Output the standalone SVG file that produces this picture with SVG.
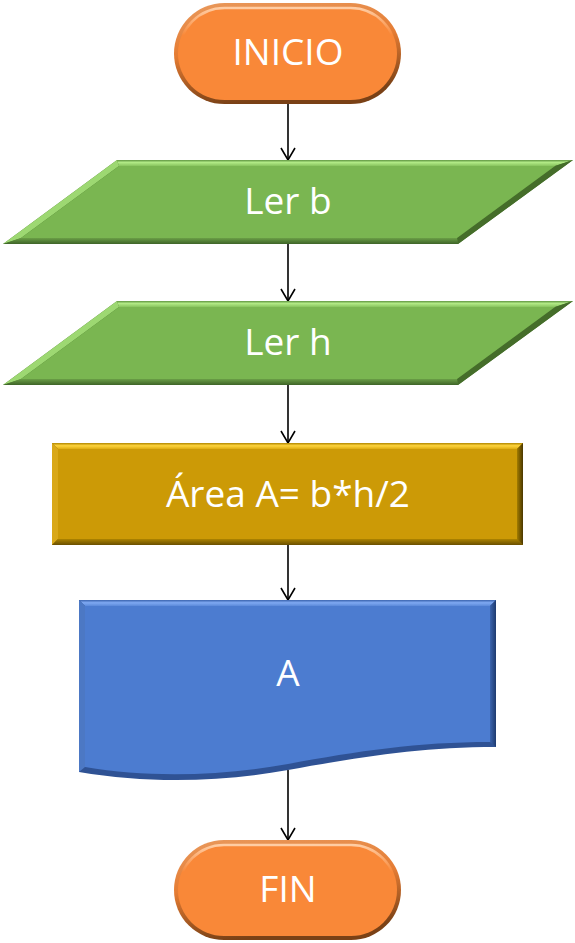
<svg xmlns="http://www.w3.org/2000/svg" width="575" height="943" viewBox="0 0 575 943">
<style>
  .lbl { font-family: "Open Sans", "Liberation Sans", sans-serif; font-size: 37px; fill: #ffffff; text-anchor: middle; }
  .conn { stroke: #000000; stroke-width: 1.6; fill: none; marker-end: url(#arr); }
</style>
<defs>
  <marker id="arr" viewBox="-14 -9 16 18" refX="0" refY="0" markerWidth="16" markerHeight="18" markerUnits="userSpaceOnUse" orient="auto">
    <path d="M-12,-7 L0,0 L-12,7" fill="none" stroke="#000" stroke-width="1.6"/>
  </marker>
  <linearGradient id="oEdge" x1="0" y1="0" x2="0.25" y2="1">
    <stop offset="0" stop-color="#E9995C"/>
    <stop offset="0.5" stop-color="#E57C33"/>
    <stop offset="1" stop-color="#7A4116"/>
  </linearGradient>
  <linearGradient id="oHi" x1="0" y1="0" x2="0" y2="1">
    <stop offset="0" stop-color="#FFCDA4" stop-opacity="1"/>
    <stop offset="0.3" stop-color="#FFCDA4" stop-opacity="0"/>
  </linearGradient>
  <linearGradient id="gTop" x1="0" y1="0" x2="0" y2="1">
    <stop offset="0" stop-color="#5E9440"/>
    <stop offset="0.4" stop-color="#B2EA86"/>
    <stop offset="1" stop-color="#88C45E"/>
  </linearGradient>
  <linearGradient id="gBot" x1="0" y1="0" x2="0" y2="1">
    <stop offset="0" stop-color="#6A9E46"/>
    <stop offset="1" stop-color="#3E6428"/>
  </linearGradient>
  <linearGradient id="yTop" x1="0" y1="0" x2="0" y2="1">
    <stop offset="0" stop-color="#B08600"/>
    <stop offset="0.45" stop-color="#FFD43C"/>
    <stop offset="1" stop-color="#DDAC12"/>
  </linearGradient>
  <linearGradient id="yRight" x1="0" y1="0" x2="1" y2="0">
    <stop offset="0" stop-color="#A27C00"/>
    <stop offset="1" stop-color="#4A3700"/>
  </linearGradient>
  <linearGradient id="yBot" x1="0" y1="0" x2="0" y2="1">
    <stop offset="0" stop-color="#AC8300"/>
    <stop offset="1" stop-color="#6A4F00"/>
  </linearGradient>
  <linearGradient id="bTop" x1="0" y1="0" x2="0" y2="1">
    <stop offset="0" stop-color="#3A63AE"/>
    <stop offset="0.45" stop-color="#7FA9F2"/>
    <stop offset="1" stop-color="#5C8ADA"/>
  </linearGradient>
  <linearGradient id="bRight" x1="0" y1="0" x2="1" y2="0">
    <stop offset="0" stop-color="#3B64AE"/>
    <stop offset="1" stop-color="#1E3A6E"/>
  </linearGradient>
</defs>

<g id="connectors">
  <line class="conn" x1="288" y1="104" x2="288" y2="160"/>
  <line class="conn" x1="288" y1="244" x2="288" y2="301"/>
  <line class="conn" x1="288" y1="385" x2="288" y2="443"/>
  <line class="conn" x1="288" y1="545" x2="288" y2="600"/>
  <line class="conn" x1="288" y1="770" x2="288" y2="840"/>
</g>

<g id="inicio">
  <rect x="174" y="3" width="227" height="101" rx="50.5" fill="url(#oEdge)"/>
  <rect x="178" y="7" width="219" height="93" rx="46.5" fill="#F98838"/>
  <rect x="179" y="8" width="217" height="91" rx="45.5" fill="none" stroke="url(#oHi)" stroke-width="2.5"/>
  <text class="lbl" x="288" y="65">INICIO</text>
</g>

<g id="ler-b">
  <polygon points="117,160 573,160 458,244 3,244" fill="#4E7C32"/>
  <polygon points="117,160 573,160 555,166 119,166" fill="url(#gTop)"/>
  <polygon points="117,160 119,166 21,238 3,244" fill="#9DD872"/>
  <polygon points="573,160 458,244 457,238 555,166" fill="#456D2A"/>
  <polygon points="3,244 458,244 457,238 21,238" fill="url(#gBot)"/>
  <polygon points="119,166 555,166 457,238 21,238" fill="#7AB651"/>
  <text class="lbl" x="288" y="214">Ler b</text>
</g>

<g id="ler-h" transform="translate(0,141)">
  <polygon points="117,160 573,160 458,244 3,244" fill="#4E7C32"/>
  <polygon points="117,160 573,160 555,166 119,166" fill="url(#gTop)"/>
  <polygon points="117,160 119,166 21,238 3,244" fill="#9DD872"/>
  <polygon points="573,160 458,244 457,238 555,166" fill="#456D2A"/>
  <polygon points="3,244 458,244 457,238 21,238" fill="url(#gBot)"/>
  <polygon points="119,166 555,166 457,238 21,238" fill="#7AB651"/>
  <text class="lbl" x="288" y="214">Ler h</text>
</g>

<g id="area">
  <rect x="52" y="443" width="471" height="102" fill="#8E6B00"/>
  <polygon points="52,443 523,443 517,449 58,449" fill="url(#yTop)"/>
  <polygon points="52,443 58,449 58,539 52,545" fill="#D9A818"/>
  <polygon points="523,443 523,545 517,539 517,449" fill="url(#yRight)"/>
  <polygon points="52,545 523,545 517,539 58,539" fill="url(#yBot)"/>
  <rect x="58" y="449" width="459" height="90" fill="#CC9A06"/>
  <text class="lbl" x="288" y="507">Área A= b*h/2</text>
</g>

<g id="output-a">
  <path d="M79,600 H496 V747 C420,747 360,757 288,770 C220,782 150,784 79,772 Z" fill="#2F5294"/>
  <polygon points="79,600 496,600 490,606 85,606" fill="url(#bTop)"/>
  <path d="M79,600 L85,606 V767 L79,772 Z" fill="#4C78C4"/>
  <path d="M496,600 V747 L490,742 V606 Z" fill="url(#bRight)"/>
  <path d="M85,606 H490 V742 C418,742 358,751 288,764 C220,776 150,778 85,767 Z" fill="#4C7CD0"/>
  <text class="lbl" x="288" y="686">A</text>
</g>

<g id="fin">
  <rect x="174" y="840" width="227" height="100" rx="50" fill="url(#oEdge)"/>
  <rect x="178" y="844" width="219" height="92" rx="46" fill="#F98838"/>
  <rect x="179" y="845" width="217" height="90" rx="45" fill="none" stroke="url(#oHi)" stroke-width="2.5"/>
  <text class="lbl" x="288" y="902">FIN</text>
</g>
</svg>
